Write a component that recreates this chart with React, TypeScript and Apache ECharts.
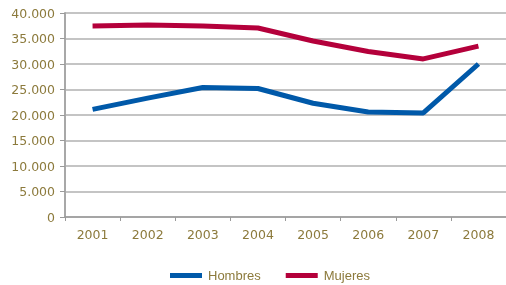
import React, { useEffect, useRef } from "react";
import * as echarts from "echarts";

const years = ["2001", "2002", "2003", "2004", "2005", "2006", "2007", "2008"];
const hombres = [21100, 23300, 25400, 25200, 22300, 20600, 20400, 30000];
const mujeres = [37450, 37650, 37450, 37050, 34500, 32450, 31000, 33500];

const TEXT = "#8c7a3c";

export default function App() {
  const ref = useRef<HTMLDivElement>(null);
  useEffect(() => {
    const chart = echarts.init(ref.current!, null, { renderer: "svg" });
    chart.setOption({
      animation: false,
      grid: { left: 65, top: 13, bottom: 68, width: 446 },
      legend: {
        left: 165,
        top: 264,
        itemWidth: 32,
        itemHeight: 5,
        itemGap: 25,
        icon: "rect",
        textStyle: { color: TEXT, fontFamily: "Liberation Sans", fontSize: 13, padding: [0, 0, 0, 1] },
        data: ["Hombres", "Mujeres"],
      },
      xAxis: {
        type: "category",
        data: years,
        boundaryGap: true,
        axisLine: { lineStyle: { color: "#9a9a9a", width: 1.5 } },
        axisTick: { show: true, length: 4, lineStyle: { color: "#9a9a9a" } },
        axisLabel: { color: TEXT, fontFamily: "DejaVu Sans", fontSize: 12.5, margin: 11 },
      },
      yAxis: {
        type: "value",
        min: 0,
        max: 40000,
        interval: 5000,
        axisLine: { show: true, lineStyle: { color: "#a8a8a8", width: 2 } },
        axisTick: { show: true, length: 5, lineStyle: { color: "#9a9a9a" } },
        splitLine: { lineStyle: { color: "#b0b0b0", width: 1.5 } },
        axisLabel: {
          color: TEXT,
          fontFamily: "DejaVu Sans",
          fontSize: 12.5,
          margin: 10,
          formatter: (v: number) => v.toLocaleString("de-DE"),
        },
      },
      series: [
        {
          name: "Hombres",
          type: "line",
          data: hombres,
          symbol: "none",
          itemStyle: { color: "#0059a9" },
          lineStyle: { color: "#0059a9", width: 5 },
        },
        {
          name: "Mujeres",
          type: "line",
          data: mujeres,
          symbol: "none",
          itemStyle: { color: "#b4003b" },
          lineStyle: { color: "#b4003b", width: 5 },
        },
      ],
    });
    return () => chart.dispose();
  }, []);
  return <div ref={ref} style={{ width: 506, height: 285, position: "fixed", left: 0, top: 0 }} />;
}
